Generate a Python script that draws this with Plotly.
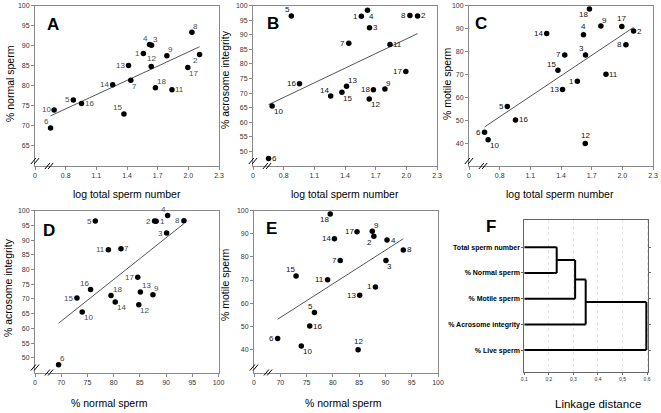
import numpy as np
import plotly.graph_objects as go

W, H = 661, 413
FONT = "Liberation Sans, Arial, sans-serif"

# ---------------- data ----------------
ids = [str(i) for i in range(1, 19)]
log_total = [1.56, 2.11, 1.64, 1.62, 0.875, 0.652, 1.437, 2.035, 1.79,
             0.687, 1.84, 1.637, 1.415, 1.26, 1.37, 0.955, 1.995, 1.678]
normal = [88.1, 87.8, 90.1, 90.3, 76.5, 69.5, 81.4, 93.4, 87.5,
          74.0, 79.0, 84.8, 85.1, 80.3, 73.0, 75.6, 84.6, 79.5]
acrosome = [96.4, 96.5, 92.4, 98.4, 96.5, 47.6, 87.1, 96.6, 71.4,
            65.6, 86.7, 68.0, 72.4, 69.0, 70.3, 73.2, 77.4, 71.2]
motile = [67.0, 88.9, 78.5, 87.3, 56.0, 44.7, 78.5, 83.0, 91.1,
          41.5, 70.1, 39.8, 63.4, 87.9, 71.8, 50.1, 90.9, 98.6]

log_ticks = [0.5, 0.8, 1.1, 1.4, 1.7, 2.0, 2.3]
log_ticktext = ["0", "0.8", "1.1", "1.4", "1.7", "2.0", "2.3"]
normal_xticks = [65, 70, 75, 80, 85, 90, 95, 100]
normal_xticktext = ["0", "70", "75", "80", "85", "90", "95", "100"]
normal_yticks = [65, 70, 75, 80, 85, 90, 95, 100]
acro_ticks = [50, 55, 60, 65, 70, 75, 80, 85, 90, 95, 100]
motile_ticks = [40, 50, 60, 70, 80, 90, 100]

leaves = ["Total sperm number", "% Normal sperm", "% Motile sperm",
          "% Acrosome integrity", "% Live sperm"]
merge_dist = [0.232, 0.307, 0.350, 0.597]
link_ticks = [0.1, 0.2, 0.3, 0.4, 0.5, 0.6]
link_ticktext = ["0,1", "0,2", "0,3", "0,4", "0,5", "0,6"]

# ---------------- helpers ----------------
def px(x):
    return x / W

def py(y):
    return 1 - y / H

# label placement: code -> (xanchor, xshift, yshift)
OFF = {"ML": ("right", -3.5, 0), "MR": ("left", 3.5, 0),
       "TL": ("right", -1.5, 6), "TR": ("left", 1.5, 6),
       "BL": ("right", -1.5, -6), "BR": ("left", 1.5, -6),
       "TC": ("center", 0, 8)}

panels = [
    dict(letter="A", x=log_total, y=normal, xd=(35, 219), yd=(5.7, 166),
         xr=[0.5, 2.3], xt=log_ticks, xtt=log_ticktext,
         yr=[60, 100], yt=normal_yticks,
         xtitle="log total sperm number", ytitle="% normal sperm",
         xtpos=(127, 194), ytpos=(10, 84), lpos=(53, 24), lcol="#4a4a4a",
         tp="ML BL TR TL ML TL BR TR TR ML MR TC ML ML TL MR BR TR"),
    dict(letter="B", x=log_total, y=acrosome, xd=(253, 437), yd=(5.7, 166),
         xr=[0.5, 2.3], xt=log_ticks, xtt=log_ticktext,
         yr=[45, 100], yt=acro_ticks,
         xtitle="log total sperm number", ytitle="% acrosome integrity",
         xtpos=(345, 194), ytpos=(225, 80), lpos=(273, 23), lcol="#111",
         tp="ML MR MR BR TL MR ML ML TR BR MR BR TR TL BR ML ML ML"),
    dict(letter="C", x=log_total, y=motile, xd=(469, 653), yd=(5.7, 166),
         xr=[0.5, 2.3], xt=log_ticks, xtt=log_ticktext,
         yr=[30, 100], yt=motile_ticks,
         xtitle="log total sperm number", ytitle="% motile sperm",
         xtpos=(560, 194), ytpos=(447, 83), lpos=(481, 23), lcol="#111",
         tp="ML MR TL TC ML ML ML ML TR BR MR TC ML ML TL MR TC BL"),
    dict(letter="D", x=normal, y=acrosome, xd=(35, 218.5), yd=(210.7, 372.5),
         xr=[65, 100], xt=normal_xticks, xtt=normal_xticktext,
         yr=[45, 100], yt=acro_ticks,
         xtitle="% normal sperm", ytitle="% acrosome integrity",
         xtpos=(110, 403), ytpos=(8, 288), lpos=(49, 230), lcol="#4a4a4a",
         tp="MR ML ML TL ML TR MR ML TR BR ML BR TR BR ML TL ML TR"),
    dict(letter="E", x=normal, y=motile, xd=(254, 438), yd=(210.7, 372.5),
         xr=[65, 100], xt=normal_xticks, xtt=normal_xticktext,
         yr=[30, 100], yt=motile_ticks,
         xtitle="% normal sperm", ytitle="% motile sperm",
         xtpos=(343, 403), ytpos=(225, 285), lpos=(271, 228), lcol="#111",
         tp="ML BL BR MR TL ML ML MR TR BR ML TC ML ML TL MR ML BL"),
]

fig = go.Figure()
annotations = []
shapes = []
axis_common = dict(showline=True, mirror=True, linecolor="#8a8a8a", linewidth=1,
                   ticks="outside", ticklen=3, tickcolor="#8a8a8a",
                   showgrid=False, zeroline=False, automargin=False,
                   tickfont=dict(family=FONT, size=7, color="#333"))


def paper_text(text, x, y, size, angle=0):
    return dict(text=text, x=px(x), y=py(y), xref="paper", yref="paper",
                showarrow=False, xanchor="center", yanchor="middle",
                textangle=angle, font=dict(family=FONT, size=size, color="black"))


for i, p in enumerate(panels, start=1):
    xa = "x" if i == 1 else f"x{i}"
    ya = "y" if i == 1 else f"y{i}"
    xkey = "xaxis" if i == 1 else f"xaxis{i}"
    ykey = "yaxis" if i == 1 else f"yaxis{i}"
    xs = np.array(p["x"], dtype=float)
    ys = np.array(p["y"], dtype=float)
    # regression line
    k, b = np.polyfit(xs, ys, 1)
    lx = np.array([xs.min(), xs.max()])
    fig.add_trace(go.Scatter(x=lx, y=k * lx + b, mode="lines",
                             line=dict(color="#555", width=1),
                             xaxis=xa, yaxis=ya, showlegend=False,
                             hoverinfo="skip"))
    fig.add_trace(go.Scatter(x=xs, y=ys, mode="markers",
                             marker=dict(color="black", size=5.5),
                             xaxis=xa, yaxis=ya, showlegend=False,
                             cliponaxis=False))
    for lab, xv, yv, code in zip(ids, xs, ys, p["tp"].split()):
        anc, dx, dy = OFF[code]
        annotations.append(dict(text=lab, x=xv, y=yv, xref=xa, yref=ya,
                                showarrow=False, xanchor=anc, yanchor="middle",
                                xshift=dx, yshift=dy, borderpad=0, borderwidth=0,
                                font=dict(family=FONT, size=8, color=p["lcol"])))
    fig.layout[xkey] = dict(axis_common, domain=[px(p["xd"][0]), px(p["xd"][1])],
                            range=p["xr"], tickvals=p["xt"], ticktext=p["xtt"],
                            anchor=ya)
    fig.layout[ykey] = dict(axis_common, domain=[py(p["yd"][1]), py(p["yd"][0])],
                            range=p["yr"], tickvals=p["yt"], anchor=xa)
    annotations.append(paper_text(p["xtitle"], p["xtpos"][0], p["xtpos"][1], 10.5))
    annotations.append(paper_text(p["ytitle"], p["ytpos"][0], p["ytpos"][1], 10.5, -90))
    annotations.append(paper_text("<b>" + p["letter"] + "</b>",
                                  p["lpos"][0], p["lpos"][1], 17))
    # axis break marks
    left, bottom = p["xd"][0], p["yd"][1]
    for cx, cy in [(left, bottom - 5), (left + 14, bottom)]:
        for dx in (-1.6, 1.6):
            shapes.append(dict(type="line", xref="paper", yref="paper",
                               x0=px(cx + dx - 2.5), y0=py(cy + 3),
                               x1=px(cx + dx + 2.5), y1=py(cy - 3),
                               line=dict(color="black", width=1)))

# ---------------- dendrogram (F) ----------------
base = link_ticks[0]
cur_pos, cur_h = 0.0, base
lines_x, lines_y = [], []
for j, d in enumerate(merge_dist):
    leaf = j + 1
    lines_x += [cur_h, d, None]
    lines_y += [cur_pos, cur_pos, None]
    lines_x += [base, d, None]
    lines_y += [leaf, leaf, None]
    lines_x += [d, d, None]
    lines_y += [cur_pos, leaf, None]
    cur_pos, cur_h = (cur_pos + leaf) / 2, d

fig.add_trace(go.Scatter(x=lines_x, y=lines_y, mode="lines",
                         line=dict(color="black", width=2),
                         xaxis="x6", yaxis="y6", showlegend=False,
                         hoverinfo="skip", cliponaxis=False))
fig.layout["xaxis6"] = dict(domain=[px(524.3), px(648.3)], range=[0.1, 0.605],
                            tickvals=link_ticks, ticktext=link_ticktext,
                            showline=True, mirror=True, linecolor="#666", linewidth=1,
                            ticks="outside", ticklen=2, tickcolor="#666",
                            showgrid=True, gridcolor="#e6e6e6", griddash="dot",
                            zeroline=False, anchor="y6", automargin=False,
                            tickfont=dict(family=FONT, size=5, color="#333"))
fig.layout["yaxis6"] = dict(domain=[py(371.7), py(220)], range=[4.84, -1.06],
                            tickvals=list(range(len(leaves))), ticktext=leaves,
                            showline=True, mirror="ticks", linecolor="#666", linewidth=1,
                            ticks="outside", ticklen=2, tickcolor="#666",
                            showgrid=False, zeroline=False, anchor="x6",
                            automargin=False,
                            tickfont=dict(family=FONT, size=7, color="black",
                                          weight="bold"))
annotations.append(paper_text("<b>F</b>", 491, 226, 17))
annotations.append(paper_text("Linkage distance", 598, 404, 11.5))

fig.update_layout(width=W, height=H, margin=dict(l=0, r=0, t=0, b=0),
                  paper_bgcolor="white", plot_bgcolor="white",
                  annotations=annotations, shapes=shapes,
                  font=dict(family=FONT))
fig.write_html("out.html", config={"displayModeBar": False},
               post_script="document.body.style.margin='0';"
                           "document.body.style.overflow='hidden';")
